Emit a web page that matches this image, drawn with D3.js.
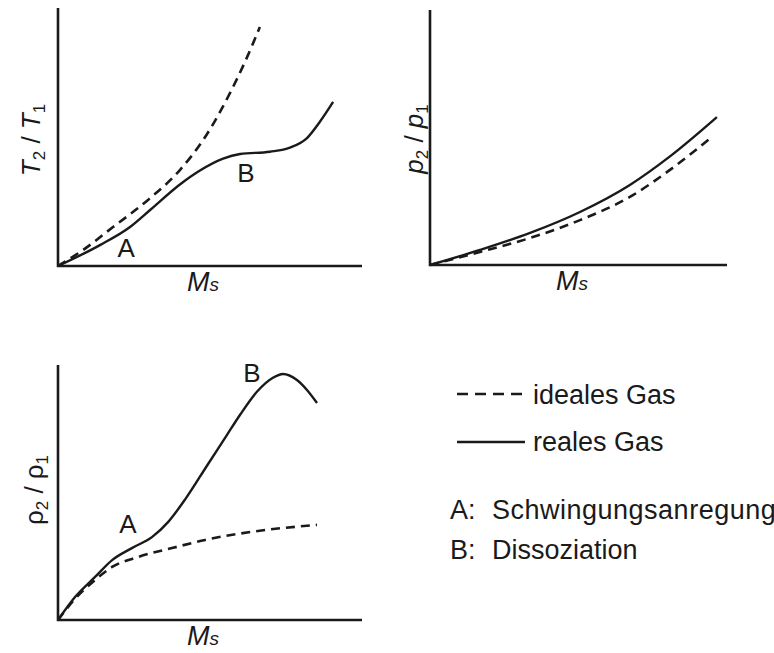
<!DOCTYPE html>
<html><head><meta charset="utf-8">
<script src="https://cdn.jsdelivr.net/npm/d3@7"></script>
<style>
html,body{margin:0;padding:0;background:#fff;}
svg{display:block;}
text{font-family:"Liberation Sans",Arial,Helvetica,sans-serif;fill:#1a1a1a;}
</style></head>
<body>
<script>
// Normalised data (0–100 along each axis)
const t_ideal = [[0,0],[8,6.0],[18.1,15.1],[29.6,25.6],[40.1,37.2],[48.4,50.0],[56.6,67.1],[61.5,79.1],[66.4,92.6]];
const t_real  = [[0,0],[13.8,8.1],[23.7,15.1],[30.3,21.7],[40.1,31.6],[46.7,37.0],[54.3,41.6],[59.9,43.4],[69.7,44.3],[76.3,45.9],[81.9,49.6],[86.2,56.0],[90.5,63.6]];
const p_ideal = [[0,0],[16.8,5.1],[33.7,10.6],[50.5,17.6],[67.3,26.7],[80.8,37.3],[94.9,50.2]];
const p_real  = [[0,0],[16.8,5.9],[33.7,12.6],[50.5,20.8],[67.3,31.4],[80.8,42.6],[96.6,58.0]];
const r_ideal = [[0,0],[5.0,7.5],[12.2,15.7],[17.8,20.8],[26.3,24.7],[37.5,28.2],[48.4,31.4],[63.2,34.5],[85.2,37.3]];
const r_real  = [[0,0],[5.6,9.0],[12.2,16.9],[17.8,23.5],[24.3,28.2],[30.9,32.5],[36.2,38.4],[42.0,47.6],[49.0,60.5],[55.6,72.6],[59.9,80.5],[65.5,89.6],[70.7,95.0],[74.0,96.5],[78.6,94.1],[81.9,90.2],[85.2,85.1]];
const seriesNames = ["ideales Gas","reales Gas"];
const notes = [["A:","Schwingungsanregung"],["B:","Dissoziation"]];
const pointLabels = [
  [["A",22.4,3.5],["B",61.8,32.6]],
  [],
  [["A",23.0,34.1],["B",63.8,93.3]]
];

const W=774,H=653;
const svg=d3.select("body").append("svg").attr("width",W).attr("height",H);

const panels=[
  {x0:58,x1:362,y0:266,y1:8, ideal:t_ideal, real:t_real, ylab:"T", italic:true, lx:40, ly:140, mx:203},
  {x0:430,x1:727,y0:265,y1:10, ideal:p_ideal, real:p_real, ylab:"p", italic:true, lx:423, ly:139, mx:572},
  {x0:58,x1:362,y0:620,y1:365, ideal:r_ideal, real:r_real, ylab:"\u03c1", italic:false, lx:43, ly:490, mx:203}
];

panels.forEach((p,i)=>{
  const x=d3.scaleLinear().domain([0,100]).range([p.x0,p.x1]);
  const y=d3.scaleLinear().domain([0,100]).range([p.y0,p.y1]);
  const g=svg.append("g");
  const line=d3.line().x(d=>x(d[0])).y(d=>y(d[1])).curve(d3.curveMonotoneX);
  g.append("path").attr("d",line(p.ideal)).attr("fill","none").attr("stroke","#1a1a1a")
    .attr("stroke-width",2.6).attr("stroke-dasharray","9,6");
  g.append("path").attr("d",line(p.real)).attr("fill","none").attr("stroke","#1a1a1a")
    .attr("stroke-width",2.4);
  // axes
  g.append("path").attr("d",`M${x(0)},${y(100)}V${y(0)}H${x(100)}`).attr("fill","none")
    .attr("stroke","#1a1a1a").attr("stroke-width",2.6);
  // y label
  const t=g.append("text").attr("transform",`translate(${p.lx},${p.ly}) rotate(-90)`)
    .attr("text-anchor","middle").attr("font-size",26);
  const st=p.italic?"italic":"normal";
  t.append("tspan").attr("font-style",st).text(p.ylab);
  t.append("tspan").attr("font-size",17).attr("dy",5).text("2");
  t.append("tspan").attr("dy",-5).text(" / ");
  t.append("tspan").attr("font-style",st).text(p.ylab);
  t.append("tspan").attr("font-size",17).attr("dy",5).text("1");
  // x label
  const m=g.append("text").attr("x",p.mx).attr("y",p.y0+25).attr("text-anchor","middle")
    .attr("font-size",27).attr("font-style","italic");
  m.append("tspan").text("M");
  m.append("tspan").attr("font-size",19).text("s");
  // A/B labels
  pointLabels[i].forEach(L=>{
    g.append("text").attr("x",x(L[1])).attr("y",y(L[2])).attr("text-anchor","middle").attr("font-size",26).text(L[0]);
  });
});

// legend
const lg=svg.append("g");
lg.append("line").attr("x1",457).attr("x2",522).attr("y1",394).attr("y2",394)
  .attr("stroke","#1a1a1a").attr("stroke-width",2.4).attr("stroke-dasharray","11,7");
lg.append("text").attr("x",533).attr("y",404).attr("font-size",27).text(seriesNames[0]);
lg.append("line").attr("x1",457).attr("x2",525).attr("y1",442).attr("y2",442)
  .attr("stroke","#1a1a1a").attr("stroke-width",2.4);
lg.append("text").attr("x",533).attr("y",451).attr("font-size",27).text(seriesNames[1]);
notes.forEach((n,i)=>{
  lg.append("text").attr("x",450).attr("y",519+i*40).attr("font-size",27).text(n[0]);
  lg.append("text").attr("x",492).attr("y",519+i*40).attr("font-size",27)
    .attr("letter-spacing",i===0?0.5:0).text(n[1]);
});
</script>
</body></html>
